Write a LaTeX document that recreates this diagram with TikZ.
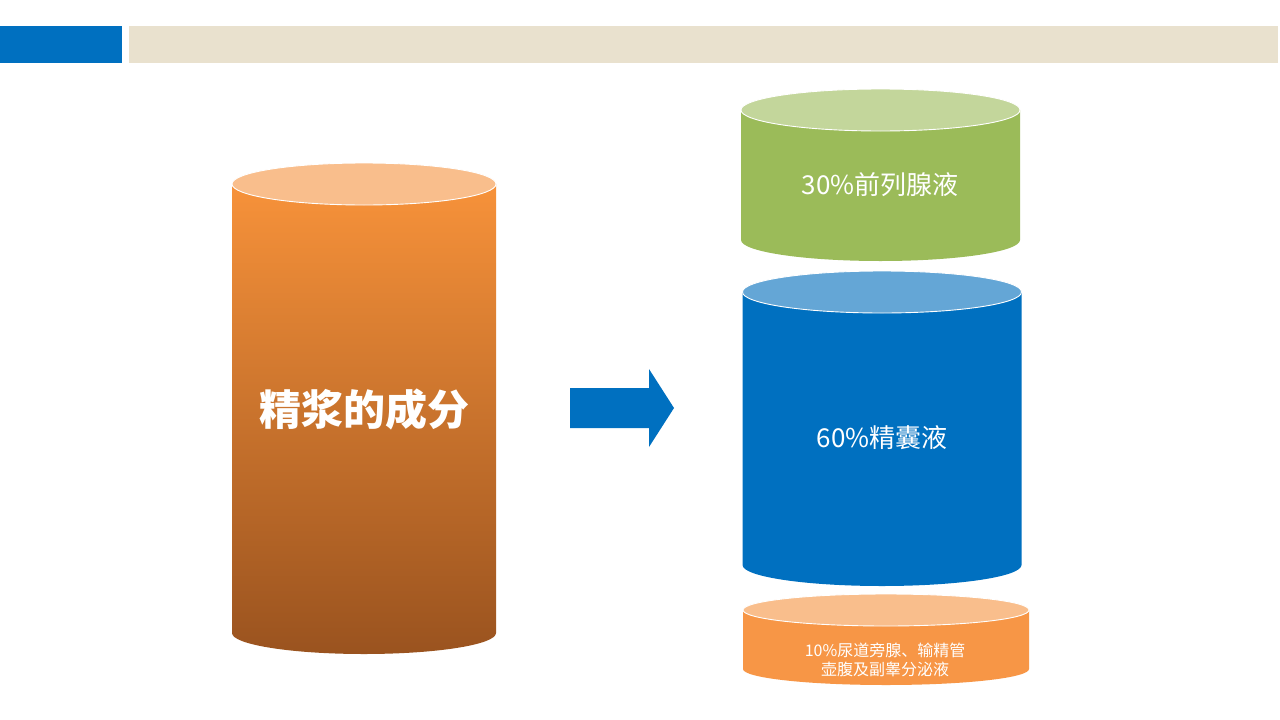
\documentclass[tikz,border=0pt]{standalone}
\usepackage{fontspec}
\setmainfont{Noto Sans CJK SC}
\newfontfamily\cjk{Noto Sans CJK SC}
\definecolor{barblue}{HTML}{0070C0}
\definecolor{beige}{HTML}{E9E1CE}
\definecolor{orgtop}{HTML}{F9BE8C}
\definecolor{orgA}{HTML}{F7923A}
\definecolor{orgB}{HTML}{9A531F}
\definecolor{grtop}{HTML}{C3D69B}
\definecolor{grbody}{HTML}{9BBB59}
\definecolor{bltop}{HTML}{64A6D6}
\definecolor{blbody}{HTML}{0070C0}
\definecolor{orbody}{HTML}{F79646}
\newcommand{\cylbody}[6]{% cx, ytop, ybot, rx, ry, style
  \path[#6] (#1-#4,#2) -- (#1-#4,#3) arc[start angle=180,end angle=360,x radius=#4pt,y radius=#5pt] -- (#1+#4,#2) -- cycle;}
\newcommand{\cyltop}[5]{% cx, ytop, rx, ry, color
  \path[fill=#5,draw=white,line width=0.9pt] (#1,#2) ellipse[x radius=#3pt,y radius=#4pt];}
\tikzset{
  label/.style={text=white,inner sep=0pt,font=\cjk},
}
\begin{document}
\begin{tikzpicture}[x=1pt,y=-1pt]
\useasboundingbox (0,0) rectangle (1280,720);
\fill[white] (0,0) rectangle (1280,720);
% header bar
\fill[barblue] (0,26) rectangle (122,63);
\fill[beige] (129,26) rectangle (1278,63);
% left cylinder
\cylbody{364}{184}{633}{132}{21}{top color=orgA,bottom color=orgB}
\cyltop{364}{184}{132}{21}{orgtop}
\node[label,font=\cjk\bfseries\fontsize{42}{48}\selectfont] (main) at (364,409) {精浆的成分};
% arrow
\fill[barblue] (570,388) -- (649,388) -- (649,369) -- (674,408) -- (649,447) -- (649,428) -- (570,428) -- cycle;
% green cylinder
\cylbody{880.5}{110}{240}{139.5}{21}{fill=grbody}
\cyltop{880.5}{110}{139.5}{21}{grtop}
\node[label,font=\cjk\fontsize{26}{30}\selectfont] (pro) at (880,185) {30\%前列腺液};
% blue cylinder
\cylbody{882}{292}{565}{139.5}{21}{fill=blbody}
\cyltop{882}{292}{139.5}{21}{bltop}
\node[label,font=\cjk\fontsize{26}{30}\selectfont] (sem) at (882,438) {60\%精囊液};
% small orange cylinder
\cylbody{886}{610}{669}{143}{16}{fill=orbody}
\cyltop{886}{610}{143}{16}{orgtop}
\node[label,align=center,font=\cjk\fontsize{16}{19.5}\selectfont] (oth) at (885,660) {10\%尿道旁腺、输精管\\壶腹及副睾分泌液};
\end{tikzpicture}
\end{document}
